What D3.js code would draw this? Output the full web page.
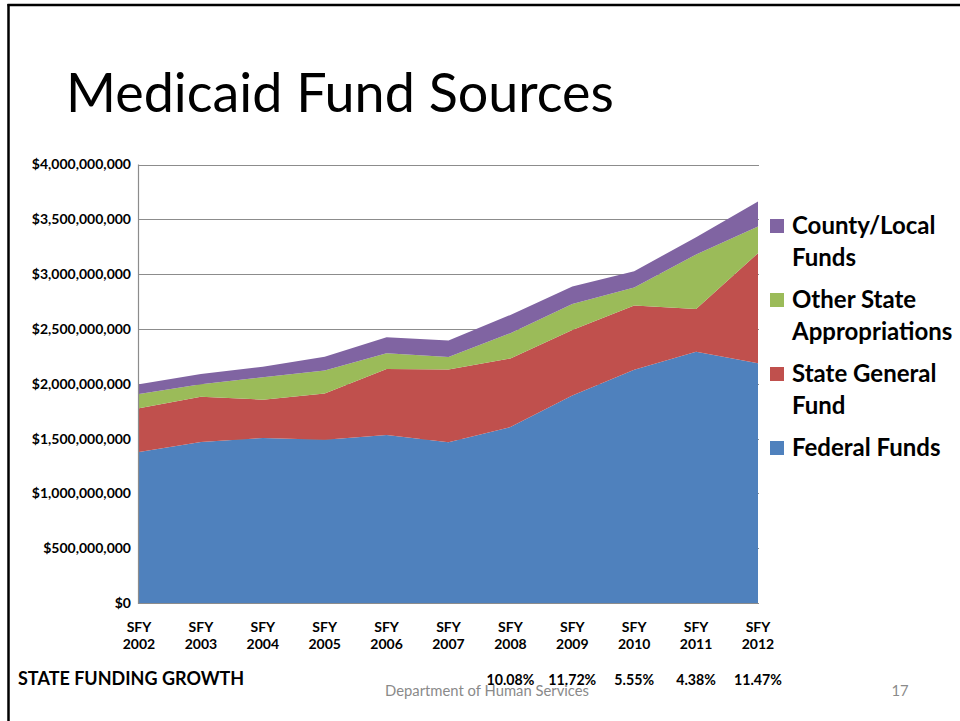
<!DOCTYPE html>
<html><head><meta charset="utf-8">
<script src="https://cdn.jsdelivr.net/npm/d3@7"></script>
<style>
html,body{margin:0;padding:0;background:#fff;}
svg{display:block;}
</style></head>
<body>
<script>
// ---- data (values in dollars) ----
const years = ["2002","2003","2004","2005","2006","2007","2008","2009","2010","2011","2012"];
const federalFunds       = [1378,1469,1505,1490,1533,1466,1605,1892,2128,2291,2187].map(v=>v*1e6);
const stateGeneralFund   = [398,413,350,420,602,664,626,599,585,391,1004].map(v=>v*1e6);
const otherStateApprops  = [131,113,204,210,143,113,230,237,164,496,243].map(v=>v*1e6);
const countyLocalFunds   = [88,94,97,127,146,152,167,158,149,159,228].map(v=>v*1e6);
const seriesNames  = ["Federal Funds","State General Fund","Other State Appropriations","County/Local Funds"];
const seriesColors = ["#4F81BD","#C0504D","#9BBB59","#8064A2"];
const legendLines  = [["Federal Funds"],["State General","Fund"],["Other State","Appropriations"],["County/Local","Funds"]];
const yTicks = [0,500e6,1000e6,1500e6,2000e6,2500e6,3000e6,3500e6,4000e6];
const growthYears  = ["2008","2009","2010","2011","2012"];
const growthLabels = ["10.08%","11.72%","5.55%","4.38%","11.47%"];

const W=960,H=721;
const svg=d3.select("body").append("svg").attr("width",W).attr("height",H);
const font="Lato, 'Open Sans', 'Liberation Sans', sans-serif";

// slide border
svg.append("line").attr("x1",7.5).attr("x2",W).attr("y1",5).attr("y2",5).attr("stroke","#000").attr("stroke-width",2.5);
svg.append("line").attr("x1",8.5).attr("x2",8.5).attr("y1",4).attr("y2",H).attr("stroke","#000").attr("stroke-width",2.5);

// title
const title=svg.append("text").attr("x",66).attr("y",112).attr("font-family",font)
  .attr("font-size",50).attr("fill","#000").text("Medicaid Fund Sources");
{ const len=title.node().getComputedTextLength(); title.attr("font-size",50*548/len); }

const pLeft=139,pRight=758,pTop=164.5,pBottom=603;
const x=d3.scalePoint().domain(years).range([pLeft,pRight]);
const y=d3.scaleLinear().domain([0,4e9]).range([pBottom,pTop]);

const rows=years.map((yr,i)=>({year:yr,
  "Federal Funds":federalFunds[i],
  "State General Fund":stateGeneralFund[i],
  "Other State Appropriations":otherStateApprops[i],
  "County/Local Funds":countyLocalFunds[i]}));
const stack=d3.stack().keys(seriesNames)(rows);

// y axis labels
const yAxis=svg.append("g").attr("transform",`translate(${pLeft},0)`)
  .call(d3.axisLeft(y).tickValues(yTicks).tickFormat(d=>"$"+d3.format(",")(d)).tickSize(0).tickPadding(8));
yAxis.select(".domain").remove();
yAxis.selectAll("text").attr("font-family",font).attr("font-weight","bold").attr("font-size",14).attr("fill","#000");
// gridlines
svg.append("g").selectAll("line").data(yTicks).join("line")
  .attr("x1",pLeft).attr("x2",pRight+1).attr("y1",d=>Math.round(y(d))+0.5).attr("y2",d=>Math.round(y(d))+0.5)
  .attr("stroke","#8c8c8c").attr("stroke-width",1.2);

// areas
const area=d3.area().x(d=>x(d.data.year)).y0(d=>y(d[0])).y1(d=>y(d[1]));
svg.append("g").selectAll("path").data(stack).join("path")
  .attr("d",area).attr("fill",(d,i)=>seriesColors[i]);

// axis lines
svg.append("line").attr("x1",pLeft-0.5).attr("x2",pLeft-0.5).attr("y1",pTop).attr("y2",pBottom+1).attr("stroke","#8c8c8c").attr("stroke-width",1.2);
svg.append("line").attr("x1",pLeft-1).attr("x2",pRight+1).attr("y1",pBottom+0.5).attr("y2",pBottom+0.5).attr("stroke","#8c8c8c").attr("stroke-width",1.2);

// x labels
const xl=svg.append("g").selectAll("text").data(years).join("text")
  .attr("x",d=>x(d)).attr("text-anchor","middle").attr("font-family",font).attr("font-weight","bold").attr("font-size",14).attr("fill","#000");
xl.append("tspan").attr("x",d=>x(d)).attr("y",632).text("SFY");
xl.append("tspan").attr("x",d=>x(d)).attr("y",649).text(d=>d);

// legend
const legendY=[448,374,300,226];
const lg=svg.append("g");
seriesNames.forEach((n,i)=>{
  lg.append("rect").attr("x",770).attr("y",legendY[i]-7).attr("width",14).attr("height",14).attr("fill",seriesColors[i]);
  const t=lg.append("text").attr("font-family",font).attr("font-weight","bold").attr("font-size",24).attr("fill","#000");
  legendLines[i].forEach((ln,j)=>t.append("tspan").attr("x",792).attr("y",legendY[i]+8+j*32).text(ln));
});

// state funding growth
svg.append("text").attr("x",18).attr("y",685).attr("font-family",font).attr("font-weight","bold").attr("font-size",18).attr("fill","#000").text("STATE FUNDING GROWTH");
svg.append("text").attr("x",487).attr("y",696).attr("text-anchor","middle").attr("font-family",font).attr("font-size",14.8).attr("fill","#8a8a8a").text("Department of Human Services");
svg.append("text").attr("x",900).attr("y",696).attr("text-anchor","middle").attr("font-family",font).attr("font-size",14.8).attr("fill","#8a8a8a").text("17");
svg.append("g").selectAll("text").data(growthYears).join("text")
  .attr("x",d=>x(d)).attr("y",685).attr("text-anchor","middle").attr("font-family",font).attr("font-weight","bold").attr("font-size",14.2).attr("fill","#000")
  .text((d,i)=>growthLabels[i]);
</script>
</body></html>
